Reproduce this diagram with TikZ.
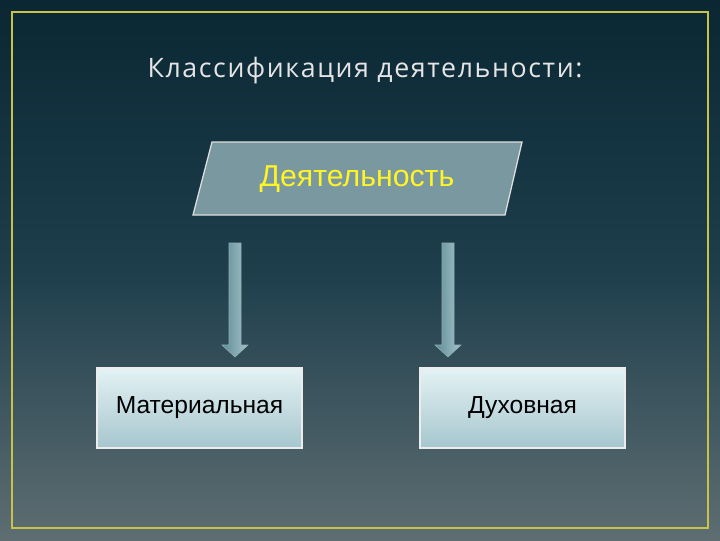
\documentclass[tikz,border=0pt]{standalone}
\usepackage{fontspec}
\setmainfont{Liberation Sans}
\newfontfamily\titlefont[LetterSpace=6]{Open Sans}
\definecolor{bgtop}{HTML}{0A2733}
\definecolor{bgmid}{HTML}{1E3E4C}
\definecolor{bgbot}{HTML}{5E6E72}
\definecolor{frame}{HTML}{C9C24A}
\definecolor{para}{HTML}{7A98A0}
\definecolor{boxtop}{HTML}{E4F2F4}
\definecolor{boxbot}{HTML}{A6C6CE}
\definecolor{arrtop}{HTML}{5E8C96}
\definecolor{arrbot}{HTML}{A8C4CA}
\tikzset{
  catbox/.style={draw=white!85!gray, line width=0.8pt, top color=boxtop, bottom color=boxbot,
    minimum width=5.125cm, minimum height=2cm, font=\fontsize{17.5}{20}\selectfont, text=black},
  downarrow/.style={left color=arrtop, right color=arrbot, draw=arrtop!70!white, line width=0.4pt}
}
\newcommand\dnarrow[1]{%
  \path[downarrow] (#1-6,243) -- (#1+6,243) -- (#1+6,345) -- (#1+13,345) -- (#1,357) -- (#1-13,345) -- (#1-6,345) -- cycle;}
\begin{document}
\begin{tikzpicture}[x=0.025cm,y=-0.025cm]
\fill[top color=bgtop, bottom color=bgbot, middle color=bgmid] (0,0) rectangle (720,540);
\useasboundingbox (0,0) rectangle (720,540);
\draw[frame, line width=1.3pt] (12,12) rectangle (708,528);
\node[text=white!80!gray, font=\titlefont\fontsize{19}{22}\selectfont] (title) at (365,71) {Классификация деятельности:};
\draw[fill=para, draw=white!75!gray, line width=0.9pt] (212,142) -- (522,142) -- (505,215) -- (193,215) -- cycle;
\node[text=yellow!85!white, font=\fontsize{21.5}{24}\selectfont] (act) at (357,179) {Деятельность};
\dnarrow{235}
\dnarrow{448}
\node[catbox] (mat) at (199.5,408) {Материальная};
\node[catbox] (spi) at (522.5,408) {Духовная};
\end{tikzpicture}
\end{document}
